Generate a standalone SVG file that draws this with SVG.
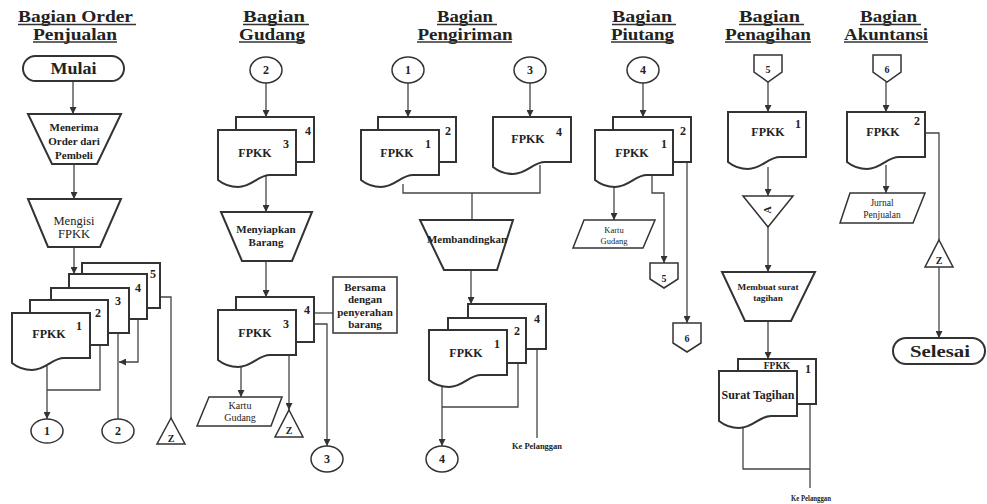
<svg xmlns="http://www.w3.org/2000/svg" xmlns:xlink="http://www.w3.org/1999/xlink" width="987" height="504" viewBox="0 0 987 504">
<style>
.t{font-family:"Liberation Serif","Times New Roman",serif;font-weight:bold;text-anchor:middle;fill:#222}
.n{font-weight:normal}
.h{font-size:16px}
.m{font-size:12px}
.sm{font-size:10px}
.md{font-size:11px}
.xs{font-size:8.5px}
.tiny{font-size:7.5px}
.sh{fill:#fff;stroke:#333;stroke-width:2}
.sh1{fill:#fff;stroke:#333;stroke-width:1.5}
.c{fill:none;stroke:#444;stroke-width:1.3}
.ul{stroke:#333;stroke-width:1.3}
</style>
<defs>
<path id="doc" d="M0,0 H78 V45 H52 C40,45 34,57 20,57 C11,57 5,54 0,50 Z"/>
<marker id="ah" viewBox="0 0 10 10" refX="10" refY="5" markerWidth="7" markerHeight="7" orient="auto" markerUnits="userSpaceOnUse"><path d="M0,0 L10,5 L0,10 z" fill="#333"/></marker>
</defs>
<rect width="987" height="504" fill="#fff"/>

<g id="titles">
<text class="t h" x="75.5" y="22" textLength="115" lengthAdjust="spacingAndGlyphs">Bagian Order</text>
<text class="t h" x="75" y="39.5" textLength="84" lengthAdjust="spacingAndGlyphs">Penjualan</text>
<line class="ul" x1="18" y1="24.5" x2="136" y2="24.5"/><line class="ul" x1="33" y1="42" x2="117" y2="42"/>
<text class="t h" x="274" y="22" textLength="62" lengthAdjust="spacingAndGlyphs">Bagian</text>
<text class="t h" x="272" y="39.5" textLength="66" lengthAdjust="spacingAndGlyphs">Gudang</text>
<line class="ul" x1="243" y1="24.5" x2="309" y2="24.5"/><line class="ul" x1="239" y1="42" x2="305" y2="42"/>
<text class="t h" x="465" y="22" textLength="56" lengthAdjust="spacingAndGlyphs">Bagian</text>
<text class="t h" x="465" y="39.5" textLength="95" lengthAdjust="spacingAndGlyphs">Pengiriman</text>
<line class="ul" x1="437" y1="24.5" x2="497" y2="24.5"/><line class="ul" x1="417" y1="42" x2="512" y2="42"/>
<text class="t h" x="642" y="22" textLength="60" lengthAdjust="spacingAndGlyphs">Bagian</text>
<text class="t h" x="642.5" y="39.5" textLength="63" lengthAdjust="spacingAndGlyphs">Piutang</text>
<line class="ul" x1="612" y1="24.5" x2="676" y2="24.5"/><line class="ul" x1="611" y1="42" x2="674" y2="42"/>
<text class="t h" x="769.5" y="22" textLength="61" lengthAdjust="spacingAndGlyphs">Bagian</text>
<text class="t h" x="768" y="39.5" textLength="86" lengthAdjust="spacingAndGlyphs">Penagihan</text>
<line class="ul" x1="739" y1="24.5" x2="804" y2="24.5"/><line class="ul" x1="725" y1="42" x2="811" y2="42"/>
<text class="t h" x="888.5" y="22" textLength="57" lengthAdjust="spacingAndGlyphs">Bagian</text>
<text class="t h" x="886" y="39.5" textLength="84" lengthAdjust="spacingAndGlyphs">Akuntansi</text>
<line class="ul" x1="860" y1="24.5" x2="921" y2="24.5"/><line class="ul" x1="844" y1="42" x2="928" y2="42"/>
</g>

<g id="connectors">
<!-- col 1 -->
<line class="c" x1="73" y1="81" x2="73" y2="114" marker-end="url(#ah)"/>
<line class="c" x1="74" y1="164" x2="74" y2="199" marker-end="url(#ah)"/>
<line class="c" x1="74" y1="247" x2="74" y2="274" marker-end="url(#ah)"/>
<line class="c" x1="47" y1="366" x2="47" y2="419" marker-end="url(#ah)"/>
<path class="c" d="M100,345 V390 H47"/>
<line class="c" x1="118" y1="331" x2="118" y2="419"/>
<path class="c" d="M138,319 V362 H119" marker-end="url(#ah)"/>
<path class="c" d="M160,297 H171 V418"/>
<!-- col 2 -->
<line class="c" x1="266" y1="83" x2="266" y2="117" marker-end="url(#ah)"/>
<line class="c" x1="266" y1="176" x2="266" y2="212" marker-end="url(#ah)"/>
<line class="c" x1="266" y1="261" x2="266" y2="297" marker-end="url(#ah)"/>
<line class="c" x1="315" y1="313" x2="333" y2="313"/>
<path class="c" d="M315,324 H327 V446" marker-end="url(#ah)"/>
<line class="c" x1="241" y1="366" x2="241" y2="397" marker-end="url(#ah)"/>
<line class="c" x1="289" y1="355" x2="289" y2="410" marker-end="url(#ah)"/>
<!-- col 3 -->
<line class="c" x1="408" y1="83" x2="408" y2="117" marker-end="url(#ah)"/>
<line class="c" x1="530" y1="83" x2="530" y2="117" marker-end="url(#ah)"/>
<path class="c" d="M403,184 V193 H540 V165"/>
<line class="c" x1="472" y1="193" x2="472" y2="220"/>
<line class="c" x1="471" y1="270" x2="471" y2="304" marker-end="url(#ah)"/>
<line class="c" x1="442" y1="387" x2="442" y2="446" marker-end="url(#ah)"/>
<path class="c" d="M518,363 V407 H442"/>
<line class="c" x1="537" y1="349" x2="537" y2="438"/>
<!-- col 4 -->
<line class="c" x1="643" y1="83" x2="643" y2="117" marker-end="url(#ah)"/>
<line class="c" x1="614" y1="185" x2="614" y2="220" marker-end="url(#ah)"/>
<path class="c" d="M652,176 V193 H664 V263" marker-end="url(#ah)"/>
<line class="c" x1="687" y1="163" x2="687" y2="323" marker-end="url(#ah)"/>
<!-- col 5 -->
<line class="c" x1="768" y1="82" x2="768" y2="112" marker-end="url(#ah)"/>
<line class="c" x1="768" y1="167" x2="768" y2="196" marker-end="url(#ah)"/>
<line class="c" x1="768" y1="227" x2="768" y2="272" marker-end="url(#ah)"/>
<line class="c" x1="768" y1="321" x2="768" y2="359" marker-end="url(#ah)"/>
<path class="c" d="M743,427 V469 H810"/>
<line class="c" x1="810" y1="404" x2="810" y2="488"/>
<!-- col 6 -->
<line class="c" x1="886" y1="82" x2="886" y2="112" marker-end="url(#ah)"/>
<line class="c" x1="886" y1="165" x2="886" y2="193" marker-end="url(#ah)"/>
<path class="c" d="M924,133 H939 V240"/>
<line class="c" x1="939" y1="267" x2="939" y2="338" marker-end="url(#ah)"/>
</g>

<!-- Column 1 nodes -->
<g id="mulai"><rect class="sh" x="23" y="56" width="101" height="25" rx="12.5"/><text class="t h" x="73.5" y="74" textLength="46" lengthAdjust="spacingAndGlyphs">Mulai</text></g>
<g id="menerima-order"><polygon class="sh" points="28,114 121,114 97,164 52,164"/>
<text class="t md" x="74" y="131">Menerima</text><text class="t md" x="74" y="145">Order dari</text><text class="t md" x="74" y="159">Pembeli</text></g>
<g id="mengisi-fpkk"><polygon class="sh" points="28,199 121,199 100,247 48,247"/>
<text class="t n" style="font-size:12.5px" x="74" y="225">Mengisi</text><text class="t n" style="font-size:12.5px" x="74" y="238">FPKK</text></g>
<g id="fpkk-order">
<use href="#doc" class="sh" x="82" y="263"/>
<use href="#doc" class="sh" x="69" y="274"/>
<use href="#doc" class="sh" x="51" y="288"/>
<use href="#doc" class="sh" x="30" y="300"/>
<use href="#doc" class="sh" x="12" y="313"/>
<text class="t m" x="153" y="278">5</text><text class="t m" x="138" y="292">4</text><text class="t m" x="118" y="305">3</text><text class="t m" x="98" y="317">2</text><text class="t m" x="79" y="330">1</text>
<text class="t m" x="49" y="338">FPKK</text></g>
<g id="conn-1a"><ellipse class="sh1" cx="47" cy="431" rx="16" ry="12"/><text class="t m" x="47" y="435">1</text></g>
<g id="conn-2a"><ellipse class="sh1" cx="118" cy="431" rx="16" ry="12"/><text class="t m" x="118" y="435">2</text></g>
<g id="file-z1"><polygon class="sh1" points="171,418 185,444 157,444"/><text class="t sm" x="171" y="442">Z</text></g>

<!-- Column 2 nodes -->
<g id="conn-2b"><ellipse class="sh1" cx="266" cy="70" rx="16" ry="13"/><text class="t m" x="266" y="74">2</text></g>
<g id="fpkk-gudang-1"><use href="#doc" class="sh" x="236" y="117"/><use href="#doc" class="sh" x="218" y="130"/>
<text class="t m" x="308" y="135">4</text><text class="t m" x="286" y="148">3</text><text class="t m" x="255" y="157">FPKK</text></g>
<g id="menyiapkan"><polygon class="sh" points="221,212 312,212 292,261 242,261"/>
<text class="t md" x="266" y="233">Menyiapkan</text><text class="t md" x="266" y="246">Barang</text></g>
<g id="fpkk-gudang-2"><use href="#doc" class="sh" x="236" y="297"/><use href="#doc" class="sh" x="218" y="310"/>
<text class="t m" x="307" y="314">4</text><text class="t m" x="286" y="328">3</text><text class="t m" x="255" y="337">FPKK</text></g>
<g id="note"><rect class="sh1" x="333" y="277" width="64" height="56"/>
<text class="t md" x="365" y="291">Bersama</text><text class="t md" x="365" y="303">dengan</text><text class="t md" x="365" y="316">penyerahan</text><text class="t md" x="365" y="328">barang</text></g>
<g id="kartu-gudang-1"><polygon class="sh1" points="209,397 282,397 271,426 197,426"/>
<text class="t sm n" x="240" y="409">Kartu</text><text class="t sm n" x="240" y="421">Gudang</text></g>
<g id="file-z2"><polygon class="sh1" points="289,410 303,437 275,437"/><text class="t sm" x="289" y="434">Z</text></g>
<g id="conn-3a"><ellipse class="sh1" cx="327" cy="459" rx="16" ry="13"/><text class="t m" x="327" y="463">3</text></g>

<!-- Column 3 nodes -->
<g id="conn-1b"><ellipse class="sh1" cx="408" cy="70" rx="16" ry="13"/><text class="t m" x="408" y="74">1</text></g>
<g id="conn-3b"><ellipse class="sh1" cx="530" cy="70" rx="16" ry="13"/><text class="t m" x="530" y="74">3</text></g>
<g id="fpkk-kirim-12"><use href="#doc" class="sh" x="378" y="117"/><use href="#doc" class="sh" x="361" y="130"/>
<text class="t m" x="448" y="135">2</text><text class="t m" x="428" y="148">1</text><text class="t m" x="397" y="157">FPKK</text></g>
<g id="fpkk-kirim-4"><use href="#doc" class="sh" x="493" y="117"/>
<text class="t m" x="559" y="136">4</text><text class="t m" x="528" y="143">FPKK</text></g>
<g id="membandingkan"><polygon class="sh" points="420,220 513,220 497,270 444,270"/>
<text class="t md" x="467" y="243" textLength="80" lengthAdjust="spacingAndGlyphs">Membandingkan</text></g>
<g id="fpkk-kirim-124"><use href="#doc" class="sh" x="468" y="304"/><use href="#doc" class="sh" x="448" y="318"/><use href="#doc" class="sh" x="429" y="330"/>
<text class="t m" x="537" y="323">4</text><text class="t m" x="517" y="335">2</text><text class="t m" x="497" y="348">1</text><text class="t m" x="466" y="357">FPKK</text></g>
<g id="conn-4a"><ellipse class="sh1" cx="442" cy="459" rx="16" ry="13"/><text class="t m" x="442" y="463">4</text></g>
<g id="ke-pelanggan-1"><text class="t tiny" x="537" y="449" textLength="50" lengthAdjust="spacingAndGlyphs">Ke Pelanggan</text></g>

<!-- Column 4 nodes -->
<g id="conn-4b"><ellipse class="sh1" cx="643" cy="70" rx="16" ry="13"/><text class="t m" x="643" y="74">4</text></g>
<g id="fpkk-piutang"><use href="#doc" class="sh" x="613" y="117"/><use href="#doc" class="sh" x="595" y="130"/>
<text class="t m" x="683" y="135">2</text><text class="t m" x="664" y="148">1</text><text class="t m" x="632" y="157">FPKK</text></g>
<g id="kartu-gudang-2"><polygon class="sh1" points="584,220 655,220 643,248 573,248"/>
<text class="t n" style="font-size:8.5px" x="614" y="233">Kartu</text><text class="t n" style="font-size:8.5px" x="614" y="244">Gudang</text></g>
<g id="off-5a"><polygon class="sh1" points="650,263 678,263 678,279 664,288 650,279"/><text class="t sm" x="664" y="282">5</text></g>
<g id="off-6a"><polygon class="sh1" points="673,323 701,323 701,343 687,352 673,343"/><text class="t sm" x="687" y="342">6</text></g>

<!-- Column 5 nodes -->
<g id="off-5b"><polygon class="sh1" points="754,55 782,55 782,72 768,82 754,72"/><text class="t sm" x="768" y="73">5</text></g>
<g id="fpkk-tagih"><use href="#doc" class="sh" x="728" y="112"/>
<text class="t m" x="798" y="128">1</text><text class="t m" x="768" y="136">FPKK</text></g>
<g id="arsip-a"><polygon class="sh1" points="743,196 793,196 768,227"/><text class="t sm" transform="translate(771,210) rotate(-90)" x="0" y="0">A</text></g>
<g id="membuat-surat"><polygon class="sh" points="722,272 815,272 791,321 745,321"/>
<text class="t" style="font-size:9.2px" x="768" y="290">Membuat surat</text><text class="t" style="font-size:9.2px" x="768" y="301">tagihan</text></g>
<g id="surat-tagihan"><use href="#doc" class="sh" x="738" y="359"/><use href="#doc" class="sh" x="719" y="371"/>
<text class="t" style="font-size:9.5px" x="777" y="369">FPKK</text><text class="t m" x="808" y="373">1</text>
<text class="t m" x="758" y="399">Surat Tagihan</text></g>
<g id="ke-pelanggan-2"><text class="t tiny" x="811" y="501" textLength="40" lengthAdjust="spacingAndGlyphs">Ke Pelanggan</text></g>

<!-- Column 6 nodes -->
<g id="off-6b"><polygon class="sh1" points="873,55 901,55 901,72 887,82 873,72"/><text class="t sm" x="887" y="73">6</text></g>
<g id="fpkk-akuntansi"><use href="#doc" class="sh" x="847" y="112"/>
<text class="t m" x="917" y="125">2</text><text class="t m" x="883" y="136">FPKK</text></g>
<g id="jurnal"><polygon class="sh1" points="850,193 925,193 913,223 840,223"/>
<text class="t n" style="font-size:9.5px" x="882" y="206">Jurnal</text><text class="t n" style="font-size:9.5px" x="882" y="218">Penjualan</text></g>
<g id="file-z3"><polygon class="sh1" points="939,240 953,267 925,267"/><text class="t sm" x="939" y="264">Z</text></g>
<g id="selesai"><rect class="sh" x="893" y="338" width="92" height="26" rx="13"/><text class="t h" x="940" y="357" textLength="60" lengthAdjust="spacingAndGlyphs">Selesai</text></g>
</svg>
